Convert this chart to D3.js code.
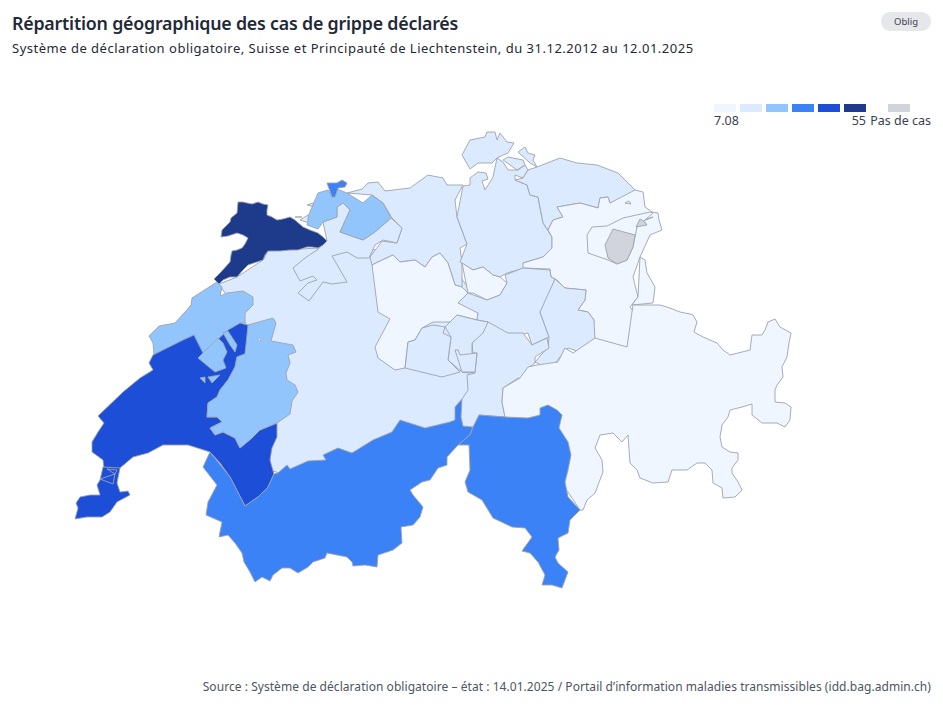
<!DOCTYPE html>
<html>
<head>
<meta charset="utf-8">
<script src="https://cdn.jsdelivr.net/npm/d3@7"></script>
<style>
  html, body { margin: 0; padding: 0; background: #fff; }
  svg { display: block; font-family: "Noto Sans", sans-serif; }
</style>
</head>
<body>
<svg id="chart" width="943" height="709"></svg>
<script>
const titleText = "Répartition géographique des cas de grippe déclarés";
const subtitleText = "Système de déclaration obligatoire, Suisse et Principauté de Liechtenstein, du 31.12.2012 au 12.01.2025";
const sourceText = "Source : Système de déclaration obligatoire – état : 14.01.2025 / Portail d’information maladies transmissibles (idd.bag.admin.ch)";
const badgeText = "Oblig";
const noCaseText = "Pas de cas";

const legendColors = ["#eff6ff", "#dbeafe", "#93c5fd", "#3b82f6", "#1d4ed8", "#1e3a8a"];
const noCaseColor = "#d1d5db";
const valueRange = [7.08, 55];

// paint order matters, later cantons sit on top of the rough edges of earlier ones
const cantonCodes = ["BE","AG","SO","BL","BS","JU","NE","VD","GE","FR","VS","ZH","SH","TG","SG","AR","AI","FL","LU","ZG","SZ","GL","UR","NW","OW","GR","TI"];
const cantonValues = [19,17,18,28,36,55,26,40,42,27,33,20,16,16,10,8,null,7.08,12,13,17,18,18,16,19,11,35];

// small lake inside FR, stays white
const lakeRing = [[257,339],[260,338],[261,341],[258,342]];

// outlines
const cantonRings = {
  BE: [[[219,284],[237,277],[263,260],[268,251],[318,248],[335,235],[375,250],[440,250],[470,290],[476,380],[470,420],[300,480],[270,470],[270,400],[250,330],[215,300]]],
  AG: [[[347,193],[362,189],[368,183],[378,182],[385,191],[410,188],[428,175],[443,178],[447,185],[463,185],[455,200],[457,217],[467,244],[460,248],[462,262],[462,287],[455,285],[448,263],[440,253],[432,257],[425,267],[415,260],[400,262],[393,255],[378,262],[372,265],[370,257],[382,241],[397,243],[402,228],[392,218],[383,203],[372,195],[363,203]]],
  SO: [[[327,241],[317,250],[305,258],[293,268],[300,281],[313,276],[317,280],[308,283],[298,293],[309,301],[323,282],[332,284],[347,282],[332,256],[347,252],[357,258],[369,258],[375,245],[383,240],[397,243],[402,228],[391,218],[375,232],[363,240],[340,232],[350,210],[343,203],[337,207],[337,217],[323,222],[318,229]],
       [[300,220],[308,215],[309,223],[303,223]],
       [[307,205],[313,203],[322,203],[320,208],[308,213]]],
  BL: [[[318,193],[328,190],[332,197],[337,189],[347,193],[363,203],[372,195],[383,203],[391,218],[375,232],[363,240],[340,232],[350,210],[343,203],[337,207],[337,217],[323,222],[318,229],[307,225],[309,214],[318,203]],
       [[295,217],[302,217],[300,221]]],
  BS: [[[327,183],[337,183],[342,180],[347,183],[345,187],[338,188],[335,197],[332,197],[328,190]]],
  JU: [[[238,202],[243,202],[247,203],[252,204],[258,202],[263,204],[268,205],[267,210],[267,215],[272,217],[277,220],[283,219],[290,217],[295,220],[303,227],[310,230],[318,233],[323,237],[327,241],[323,245],[318,248],[312,247],[307,247],[298,250],[290,250],[280,251],[268,251],[265,255],[263,260],[257,262],[248,265],[243,270],[237,277],[230,277],[223,280],[219,284],[214,279],[220,273],[230,262],[231,255],[232,251],[237,250],[242,248],[245,244],[248,238],[243,235],[237,233],[228,236],[221,237],[222,230],[230,222],[231,218],[237,213],[238,208]]],
  NE: [[[217,282],[222,287],[220,296],[227,293],[243,291],[253,297],[253,305],[245,313],[245,323],[240,323],[228,330],[203,353],[195,343],[194,335],[183,340],[154,355],[153,343],[149,336],[159,326],[175,323],[185,312],[191,305],[192,298],[203,288]]],
  VD: [[[194,335],[183,340],[153,355],[149,363],[153,370],[140,378],[123,392],[98,416],[104,423],[98,432],[92,442],[92,452],[103,460],[104,470],[118,472],[120,468],[133,457],[148,453],[163,445],[188,445],[210,452],[220,463],[230,477],[245,506],[258,497],[268,487],[274,474],[270,460],[272,448],[277,437],[277,423],[260,430],[252,438],[240,448],[235,438],[223,432],[215,435],[210,428],[222,422],[217,417],[207,417],[208,403],[217,397],[220,390],[228,380],[235,367],[237,357],[245,354],[253,342],[248,325],[240,323],[228,330],[203,353],[195,343]]],
  GE: [[[103,467],[100,480],[97,485],[100,495],[90,495],[80,497],[76,503],[78,508],[75,519],[87,517],[102,517],[110,512],[117,502],[130,495],[128,491],[120,492],[117,483],[120,468],[108,466]],
       [[107,469],[115,474],[117,470],[108,466]],
       [[100,479],[113,484],[115,474],[106,470]]],
  FR: [[[248,325],[273,318],[276,323],[271,341],[293,345],[296,352],[288,355],[290,363],[286,373],[287,380],[295,385],[298,392],[292,401],[290,414],[277,423],[260,430],[252,438],[240,448],[235,438],[223,432],[215,435],[210,428],[222,422],[217,417],[207,417],[208,403],[217,397],[220,390],[228,380],[235,367],[237,357],[245,354],[253,342]],
       [[198,358],[218,338],[223,343],[227,352],[223,360],[226,368],[215,372],[203,367]],
       [[223,333],[228,331],[237,345],[235,352],[230,345],[225,337]],
       [[208,377],[220,375],[212,383],[205,380]],
       [[200,378],[205,377],[205,383],[200,382]]],
  VS: [[[210,452],[203,467],[217,485],[208,502],[206,515],[222,522],[219,537],[228,535],[235,543],[242,553],[244,562],[250,572],[255,582],[262,577],[270,581],[273,575],[282,568],[290,568],[298,573],[308,567],[313,562],[325,558],[327,553],[347,557],[352,562],[353,566],[365,565],[377,567],[378,555],[393,550],[402,543],[401,527],[413,525],[420,517],[423,507],[413,495],[410,490],[422,482],[430,480],[438,468],[447,465],[447,457],[458,445],[470,435],[473,427],[463,426],[462,399],[455,407],[455,420],[450,422],[425,428],[400,420],[392,432],[373,440],[352,453],[338,448],[323,455],[326,460],[308,461],[290,469],[287,465],[278,473],[274,474],[268,487],[258,497],[245,506],[230,477],[220,463]]],
  ZH: [[[463,186],[470,185],[470,178],[478,172],[486,173],[488,179],[482,181],[485,190],[493,177],[497,158],[503,162],[508,170],[518,170],[525,165],[528,170],[523,178],[515,175],[515,180],[527,185],[530,195],[538,197],[543,223],[552,237],[552,248],[543,257],[523,263],[525,268],[507,273],[500,277],[493,275],[483,267],[473,270],[460,262],[467,244],[457,217],[455,200]]],
  SH: [[[462,155],[470,140],[485,137],[487,132],[495,132],[497,140],[500,133],[507,142],[514,143],[508,153],[503,155],[497,158],[492,163],[478,163],[470,169],[462,163]],
       [[518,152],[525,147],[528,153],[535,155],[533,160],[537,167],[530,163],[523,158]],
       [[503,160],[508,157],[523,160],[525,165],[517,170],[508,170]]],
  TG: [[[523,178],[528,170],[537,167],[560,158],[577,163],[597,165],[618,173],[635,190],[618,207],[610,203],[608,197],[600,198],[598,208],[580,203],[557,207],[563,217],[553,220],[548,230],[543,223],[538,197],[530,195],[527,185],[515,180],[515,175]]],
  SG: [[[635,190],[643,192],[645,207],[652,212],[658,213],[659,220],[662,230],[650,235],[640,257],[633,277],[638,297],[630,307],[642,324],[632,337],[627,348],[595,340],[592,333],[594,320],[588,312],[578,310],[585,300],[586,290],[565,288],[557,280],[551,277],[550,269],[523,268],[523,263],[543,257],[552,248],[552,237],[548,230],[553,220],[563,217],[557,207],[580,203],[598,208],[600,198],[608,197],[610,203],[618,207]],
       [[625,203],[629,201],[631,204],[627,206]]],
  AR: [[[587,235],[592,227],[607,226],[623,218],[650,212],[653,213],[637,227],[633,247],[627,260],[617,264],[608,260],[588,253],[592,243]]],
  AI: [[[613,229],[635,235],[633,247],[627,260],[617,264],[608,258],[605,245],[612,235]],
       [[636,227],[640,219],[645,222],[647,225],[638,227]],
       [[645,220],[653,217],[649,223]]],
  FL: [[[640,257],[645,260],[647,273],[655,287],[653,303],[632,305],[638,297],[633,277]]],
  LU: [[[372,265],[378,262],[393,255],[400,262],[415,260],[425,267],[432,257],[440,253],[448,263],[455,285],[462,287],[468,293],[458,303],[470,305],[478,313],[477,320],[465,317],[457,315],[450,322],[433,322],[422,328],[415,340],[408,342],[405,368],[395,370],[378,358],[375,347],[390,319],[378,312],[377,290]]],
  ZG: [[[462,263],[473,270],[483,267],[493,275],[500,277],[507,283],[500,295],[487,300],[473,293],[468,293],[463,288]]],
  SZ: [[[458,303],[468,293],[487,300],[500,295],[507,283],[505,275],[523,268],[550,270],[551,277],[555,279],[548,300],[540,312],[549,337],[532,345],[528,333],[510,337],[493,330],[488,322],[477,320],[478,313],[470,305]]],
  GL: [[[555,279],[565,288],[586,290],[585,300],[578,310],[588,312],[594,320],[595,340],[590,345],[580,352],[568,348],[560,357],[555,363],[543,366],[535,362],[548,347],[549,337],[540,312],[548,300]]],
  UR: [[[462,399],[468,390],[467,375],[475,373],[472,343],[488,322],[508,333],[523,333],[532,345],[547,338],[549,348],[535,357],[535,363],[528,368],[525,380],[518,378],[503,388],[502,402],[505,417],[479,415],[479,425],[473,427],[463,426],[461,417],[464,407]]],
  NW: [[[445,327],[457,315],[465,317],[477,320],[488,322],[483,333],[472,343],[472,353],[477,353],[475,372],[468,373],[462,372],[448,360],[451,337],[443,333]]],
  OW: [[[405,368],[408,342],[415,340],[422,328],[433,325],[445,327],[443,333],[451,337],[448,360],[460,372],[442,377],[420,375]],
       [[455,350],[458,350],[460,355],[477,353],[475,372],[462,372],[455,358]]],
  GR: [[[633,305],[653,305],[660,305],[670,308],[680,312],[690,314],[693,315],[697,322],[694,332],[703,337],[710,340],[717,343],[723,350],[730,355],[742,352],[750,350],[752,335],[762,335],[765,330],[768,322],[775,319],[780,327],[791,333],[789,343],[787,357],[782,367],[783,377],[777,385],[775,390],[775,402],[785,403],[791,407],[790,420],[785,427],[777,423],[768,423],[762,423],[752,415],[752,404],[742,407],[730,410],[728,417],[722,425],[720,437],[722,447],[730,452],[738,453],[738,460],[732,468],[732,473],[738,482],[742,490],[735,497],[723,498],[722,488],[713,483],[712,470],[705,463],[697,463],[687,470],[678,470],[672,470],[668,482],[653,483],[640,478],[637,470],[630,463],[628,435],[622,442],[613,433],[600,435],[595,448],[602,460],[603,472],[595,493],[587,500],[583,510],[580,510],[560,480],[540,430],[505,417],[502,402],[503,388],[520,378],[528,367],[537,365],[558,362],[565,348],[573,353],[595,338],[627,347],[642,324]]],
  TI: [[[479,415],[505,417],[528,418],[540,415],[540,408],[548,405],[557,410],[562,415],[559,428],[568,442],[571,455],[568,470],[565,482],[568,497],[580,510],[570,520],[568,533],[558,538],[559,550],[555,557],[558,563],[568,572],[562,588],[552,585],[542,585],[545,575],[538,562],[530,553],[522,551],[532,537],[525,528],[512,527],[493,518],[482,500],[468,492],[465,482],[470,470],[469,445],[458,445],[470,435],[473,427],[479,425]]]
};

const svg = d3.select("#chart");

const color = d3.scaleQuantize().domain(valueRange).range(legendColors);
const valueByCode = new Map(cantonCodes.map((c, i) => [c, cantonValues[i]]));

const features = cantonCodes.map(code => ({
  type: "Feature",
  properties: { code: code, value: valueByCode.get(code) },
  geometry: { type: "MultiPolygon", coordinates: cantonRings[code].map(r => [r]) }
}));

const path = d3.geoPath(d3.geoIdentity());

svg.append("g").attr("id", "map")
  .selectAll("path")
  .data(features)
  .join("path")
  .attr("d", path)
  .attr("fill", d => d.properties.value == null ? noCaseColor : color(d.properties.value))
  .attr("stroke", "#9ca3af")
  .attr("stroke-width", 0.9)
  .attr("stroke-linejoin", "round");

svg.append("path")
  .attr("d", path({ type: "Polygon", coordinates: [lakeRing] }))
  .attr("fill", "#fff")
  .attr("stroke", "#9ca3af")
  .attr("stroke-width", 0.6);

svg.append("text").attr("x", 12).attr("y", 30)
  .attr("font-size", 17.8).attr("font-weight", 600).attr("fill", "#1f2937")
  .attr("letter-spacing", -0.2)
  .text(titleText);

svg.append("text").attr("x", 12).attr("y", 53)
  .attr("font-size", 13).attr("fill", "#1f2937").attr("letter-spacing", 0.5)
  .text(subtitleText);

svg.append("text").attr("x", 931).attr("y", 691)
  .attr("text-anchor", "end").attr("font-size", 12).attr("fill", "#4b5563")
  .attr("letter-spacing", 0.05)
  .text(sourceText);

svg.append("rect").attr("x", 881).attr("y", 12).attr("width", 50).attr("height", 19)
  .attr("rx", 9.5).attr("fill", "#e5e7eb");
svg.append("text").attr("x", 906).attr("y", 24.5)
  .attr("text-anchor", "middle").attr("font-size", 9.5).attr("fill", "#374151")
  .text(badgeText);

// legend
const legendX = d3.scaleBand().domain(d3.range(legendColors.length))
  .range([714, 866]).paddingInner(4 / 26).paddingOuter(0).align(0);
const legend = svg.append("g").attr("id", "legend");
legend.selectAll("rect.step").data(legendColors).join("rect").attr("class", "step")
  .attr("x", (d, i) => legendX(i)).attr("y", 104)
  .attr("width", legendX.bandwidth()).attr("height", 8)
  .attr("fill", d => d);
legend.append("rect").attr("x", 888).attr("y", 104).attr("width", 22).attr("height", 8)
  .attr("fill", noCaseColor);
legend.append("text").attr("x", 714).attr("y", 125).attr("font-size", 12.5).attr("fill", "#374151")
  .text(valueRange[0]);
legend.append("text").attr("x", 866).attr("y", 125).attr("text-anchor", "end").attr("font-size", 12.5).attr("fill", "#374151")
  .text(valueRange[1]);
legend.append("text").attr("x", 931).attr("y", 125).attr("text-anchor", "end").attr("font-size", 12.5).attr("fill", "#374151")
  .text(noCaseText);
</script>
</body>
</html>
